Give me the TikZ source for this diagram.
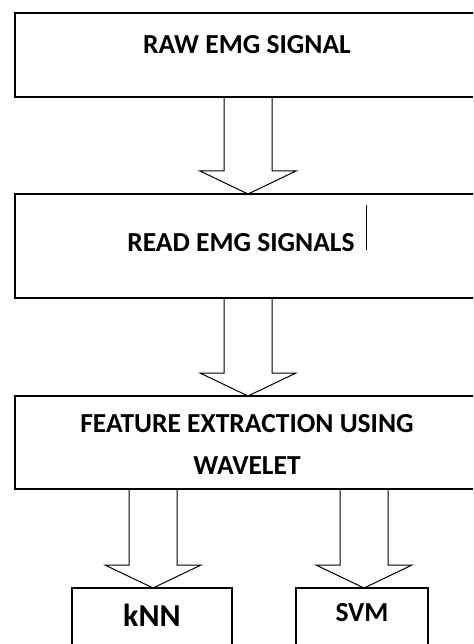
\documentclass[tikz,border=0pt]{standalone}
\usepackage{fontspec}
\setmainfont{Carlito}
\usetikzlibrary{calc}
\newcommand\blockarrow[3]{%
  \draw[blk] let \p1=(#2.south), \p2=(#3.north) in
    (#1pt-24pt,\y1) -- (#1pt-24pt,\y2+23pt) -- (#1pt-48pt,\y2+23pt) -- (#1pt,\y2)
    -- (#1pt+48pt,\y2+23pt) -- (#1pt+24pt,\y2+23pt) -- (#1pt+24pt,\y1);}
\begin{document}
\begin{tikzpicture}[x=1pt,y=-1pt,
  box/.style={draw, line width=1.1pt, inner sep=0pt, outer sep=0pt},
  lbl/.style={font=\bfseries\fontsize{27.5}{42.5}\selectfont, inner sep=0pt, anchor=center, align=center},
  big/.style={font=\bfseries\fontsize{32}{38}\selectfont, inner sep=0pt, anchor=center},
  blk/.style={draw, line width=1pt, line join=miter}]
\useasboundingbox (0,0) rectangle (473,644);
\fill[white] (0,0) rectangle (473,644);
\begin{scope}
\clip (0,0) rectangle (473,644);
\node[box, minimum width=465pt, minimum height=84pt] (b1) at (247.5,55) {};
\node[box, minimum width=465pt, minimum height=104pt] (b2) at (247.5,246) {};
\node[box, minimum width=465pt, minimum height=93pt] (b3) at (247.5,442.5) {};
\node[box, minimum width=160pt, minimum height=92pt] (b4) at (152,634) {};
\node[box, minimum width=132pt, minimum height=92pt] (b5) at (362,634) {};
\node[lbl] (t1) at (247,44.5) {RAW EMG SIGNAL};
\node[lbl] (t2) at (241,243) {READ EMG SIGNALS};
\coordinate (c1) at (366,205);
\coordinate (c2) at (366,250);
\draw[line width=1pt] (c1) -- (c2);
\node[lbl] (t3) at (247,444.5) {FEATURE EXTRACTION USING\\WAVELET};
\node[big] (t4) at (152,615) {kNN};
\node[lbl] (t5) at (362,612.5) {SVM};
\blockarrow{248}{b1}{b2}
\blockarrow{248}{b2}{b3}
\blockarrow{153}{b3}{b4}
\blockarrow{364}{b3}{b5}
\end{scope}
\end{tikzpicture}
\end{document}
